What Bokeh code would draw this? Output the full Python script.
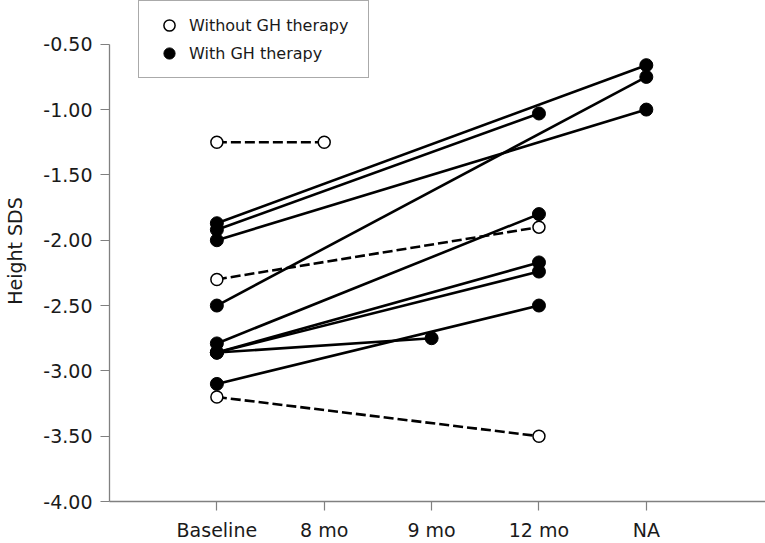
from bokeh.plotting import figure
from bokeh.models import FixedTicker, Legend, LegendItem, NumeralTickFormatter, Range1d
from bokeh.embed import file_html
from bokeh.resources import INLINE

# categories on the x axis
timepoints = ["Baseline", "8 mo", "9 mo", "12 mo", "NA"]

# patients without GH therapy: start/end category and Height SDS
without_from = ["Baseline", "Baseline", "Baseline"]
without_to = ["8 mo", "12 mo", "12 mo"]
without_start = [-1.25, -2.30, -3.20]
without_end = [-1.25, -1.90, -3.50]

# patients with GH therapy
with_from = ["Baseline"] * 9
with_to = ["NA", "12 mo", "NA", "NA", "12 mo", "12 mo", "12 mo", "9 mo", "12 mo"]
with_start = [-1.87, -1.92, -2.00, -2.50, -2.79, -2.86, -2.86, -2.86, -3.10]
with_end = [-0.66, -1.03, -1.00, -0.75, -1.80, -2.17, -2.24, -2.75, -2.50]

y_ticks = [-4.0, -3.5, -3.0, -2.5, -2.0, -1.5, -1.0, -0.5]

pos = {c: i + 1 for i, c in enumerate(timepoints)}
FONT = "DejaVu Sans"
TEXT = "#1a1a1a"
AXIS = "#808080"

p = figure(width=765, height=543, output_backend="svg", toolbar_location=None,
           x_range=Range1d(0, 6.11), y_range=Range1d(-4.0, -0.165),
           min_border_left=109, min_border_right=0, min_border_top=0, min_border_bottom=41)
p.outline_line_color = None
p.xgrid.visible = False
p.ygrid.visible = False

wx0 = [pos[c] for c in without_from]
wx1 = [pos[c] for c in without_to]
gx0 = [pos[c] for c in with_from]
gx1 = [pos[c] for c in with_to]

p.segment(wx0, without_start, wx1, without_end, line_color="black", line_width=2.6, line_dash="10 4")
p.segment(gx0, with_start, gx1, with_end, line_color="black", line_width=2.6)

r_open = p.scatter(wx0 + wx1, without_start + without_end, size=12, marker="circle",
                   fill_color="white", line_color="black", line_width=1.5)
r_fill = p.scatter(gx0 + gx1, with_start + with_end, size=13, marker="circle",
                   fill_color="black", line_color="black", line_width=1)

p.xaxis.ticker = FixedTicker(ticks=[pos[c] for c in timepoints])
p.xaxis.major_label_overrides = {pos[c]: c for c in timepoints}
p.yaxis.ticker = FixedTicker(ticks=y_ticks)
p.yaxis.formatter = NumeralTickFormatter(format="0.00")
p.yaxis.bounds = (-4.0, -0.5)
p.yaxis.axis_label = "Height SDS"

for ax in (p.xaxis[0], p.yaxis[0]):
    ax.axis_line_color = AXIS
    ax.axis_line_width = 1.3
    ax.major_tick_line_color = AXIS
    ax.major_tick_line_width = 1.2
    ax.major_tick_in = 0
    ax.major_tick_out = 9
    ax.minor_tick_line_color = None
    ax.major_label_text_font = FONT
    ax.major_label_text_font_size = "19px"
    ax.major_label_text_color = TEXT
    ax.axis_label_text_font = FONT
    ax.axis_label_text_font_size = "19px"
    ax.axis_label_text_font_style = "normal"
    ax.axis_label_text_color = TEXT
p.xaxis.major_label_standoff = 8
p.yaxis.major_label_standoff = 8
p.yaxis.axis_label_standoff = 14

legend = Legend(items=[LegendItem(label="Without GH therapy", renderers=[r_open]),
                       LegendItem(label="With GH therapy", renderers=[r_fill])],
                location=(29, 423), orientation="vertical",
                border_line_color="#555555", border_line_width=1.2,
                label_text_font=FONT, label_text_font_size="16px", label_text_color=TEXT,
                glyph_width=40, glyph_height=28, label_height=28, label_width=169,
                label_standoff=0, spacing=-7, padding=10, margin=0)
p.add_layout(legend, "center")

open("out.html", "w").write(file_html(p, INLINE))
